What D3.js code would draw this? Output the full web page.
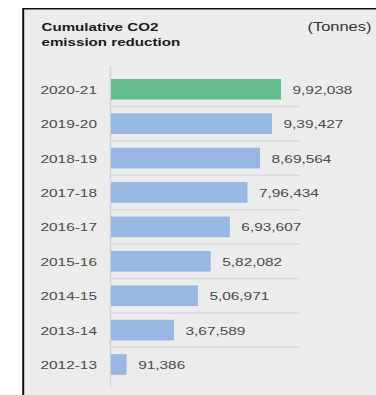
<!DOCTYPE html>
<html>
<head>
<meta charset="utf-8">
<script src="https://cdn.jsdelivr.net/npm/d3@7"></script>
<style>
  body { margin: 0; background: #fff; }
  svg { display: block; }
</style>
</head>
<body>
<script>
// data
var years = ["2020-21", "2019-20", "2018-19", "2017-18", "2016-17", "2015-16", "2014-15", "2013-14", "2012-13"];
var values = [992038, 939427, 869564, 796434, 693607, 582082, 506971, 367589, 91386];
var highlight = "2020-21";
var titleLines = ["Cumulative CO2", "emission reduction"];
var unitLabel = "(Tonnes)";

var w = 376, h = 395;
var stretch = 1.34; // the picture's text is horizontally wide

// indian digit grouping: 9,92,038
function indianFormat(n) {
	var s = String(n);
	if (s.length <= 3) return s;
	var last3 = s.slice(-3);
	var rest = s.slice(0, -3);
	rest = rest.replace(/\B(?=(\d{2})+(?!\d))/g, ",");
	return rest + "," + last3;
}

var svg = d3.select("body")
	.append("svg")
	.attr("width", w)
	.attr("height", h);

// panel
svg.append("rect")
	.attr("x", 23).attr("y", 9)
	.attr("width", w - 23).attr("height", h - 9)
	.attr("fill", "#ebeceb");
svg.append("line")
	.attr("x1", 23).attr("x2", w)
	.attr("y1", 8.75).attr("y2", 8.75)
	.attr("stroke", "#111").attr("stroke-width", 1.5);
svg.append("line")
	.attr("x1", 23.2).attr("x2", 23.2)
	.attr("y1", 8).attr("y2", h)
	.attr("stroke", "#111").attr("stroke-width", 2);

var y = d3.scaleBand()
	.domain(years)
	.range([72.1, 381.7])
	.paddingInner(0.4)
	.paddingOuter(0.2);

var x = d3.scaleLinear()
	.domain([0, d3.max(values)])
	.range([111, 281]);

var data = years.map(function(d, i) {
	return { year: d, value: values[i] };
});

function wideText(sel, tx, ty) {
	return sel.attr("transform", "translate(" + tx + "," + ty + ") scale(" + stretch + ",1)");
}

// separators between bars
svg.selectAll("line.sep")
	.data(years.slice(0, -1))
	.enter()
	.append("line")
	.attr("class", "sep")
	.attr("x1", 110).attr("x2", 300)
	.attr("y1", function(d) { return y(d) + y.bandwidth() + (y.step() - y.bandwidth()) / 2; })
	.attr("y2", function(d) { return y(d) + y.bandwidth() + (y.step() - y.bandwidth()) / 2; })
	.attr("stroke", "#d7d8d7")
	.attr("stroke-width", 1.5);

// axis line
svg.append("line")
	.attr("x1", 110.5).attr("x2", 110.5)
	.attr("y1", 66.5).attr("y2", 387)
	.attr("stroke", "#d3d4d3")
	.attr("stroke-width", 1.5);

svg.selectAll("rect.bar")
	.data(data)
	.enter()
	.append("rect")
	.attr("class", "bar")
	.attr("x", x(0))
	.attr("y", function(d) { return y(d.year); })
	.attr("width", function(d) { return x(d.value) - x(0); })
	.attr("height", y.bandwidth())
	.attr("fill", function(d) { return d.year === highlight ? "#66be8e" : "#97b8e2"; });

svg.selectAll("text.year")
	.data(data)
	.enter()
	.append("text")
	.attr("class", "year")
	.text(function(d) { return d.year; })
	.attr("text-anchor", "end")
	.attr("font-family", "Liberation Sans, Arial, sans-serif")
	.attr("font-size", "11.5px")
	.attr("fill", "#4a4a4a")
	.each(function(d) {
		wideText(d3.select(this), 97, y(d.year) + y.bandwidth() / 2 + 4.5);
	});

svg.selectAll("text.val")
	.data(data)
	.enter()
	.append("text")
	.attr("class", "val")
	.text(function(d) { return indianFormat(d.value); })
	.attr("font-family", "Liberation Sans, Arial, sans-serif")
	.attr("font-size", "11.5px")
	.attr("fill", "#4a4a4a")
	.each(function(d) {
		wideText(d3.select(this), x(d.value) + 11.5, y(d.year) + y.bandwidth() / 2 + 4.5);
	});

// title
svg.selectAll("text.title")
	.data(titleLines)
	.enter()
	.append("text")
	.attr("class", "title")
	.text(function(d) { return d; })
	.attr("font-family", "Liberation Sans, Arial, sans-serif")
	.attr("font-weight", "bold")
	.attr("font-size", "11.3px")
	.attr("fill", "#1b1b1b")
	.each(function(d, i) {
		wideText(d3.select(this), 41.5, 31 + i * 15.3);
	});

var unit = svg.append("text")
	.text(unitLabel)
	.attr("text-anchor", "end")
	.attr("font-family", "Liberation Sans, Arial, sans-serif")
	.attr("font-size", "12.3px")
	.attr("fill", "#333");
wideText(unit, 371.5, 31);
</script>
</body>
</html>
